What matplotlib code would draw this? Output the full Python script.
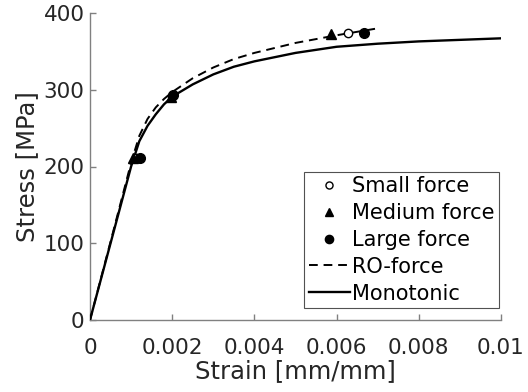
import matplotlib
matplotlib.use("Agg")
import matplotlib.pyplot as plt

# Monotonic stress-strain curve
mono_strain = [0, 0.0005, 0.0010, 0.0012, 0.0014, 0.0016, 0.0018, 0.0020, 0.0025,
               0.0030, 0.0035, 0.0040, 0.0050, 0.0060, 0.0070, 0.0080, 0.0090, 0.0100]
mono_stress = [0, 100, 200, 233, 253, 268, 281, 291, 307,
               320, 330, 337, 348, 356, 360, 363, 365, 367]

# Ramberg-Osgood fit to force-controlled tests
ro_strain = [0, 0.0005, 0.0010, 0.0012, 0.0014, 0.0016, 0.0018, 0.0020, 0.0025,
             0.0030, 0.0035, 0.0040, 0.0050, 0.0055, 0.0060, 0.0070]
ro_stress = [0, 102, 205, 240, 262, 277, 288, 297, 315,
             329, 340, 348, 361, 366, 371, 380]

# Test points
small_strain = [0.00112, 0.00200, 0.00628]
small_stress = [211, 292, 374]
medium_strain = [0.00105, 0.00198, 0.00586]
medium_stress = [211, 291, 373]
large_strain = [0.00122, 0.00202, 0.00667]
large_stress = [211, 293, 374]

x_ticks = [0, 0.002, 0.004, 0.006, 0.008, 0.01]
x_ticklabels = ["0", "0.002", "0.004", "0.006", "0.008", "0.01"]
y_ticks = [0, 100, 200, 300, 400]

plt.rcParams["font.family"] = ["DejaVu Sans"]

fig = plt.figure(figsize=(5.28, 3.92), dpi=100)
ax = fig.add_axes([90 / 528, 72 / 392, 411 / 528, 307 / 392])

ax.plot(small_strain, small_stress, linestyle="none", marker="o", markersize=6,
        markerfacecolor="white", markeredgecolor="black", markeredgewidth=1.0,
        label="Small force", zorder=4)
ax.plot(medium_strain, medium_stress, linestyle="none", marker="^", markersize=7.5,
        color="black", label="Medium force", zorder=4)
ax.plot(large_strain, large_stress, linestyle="none", marker="o", markersize=7,
        color="black", label="Large force", zorder=4)
ax.plot(ro_strain, ro_stress, color="black", linestyle=(0, (4.5, 3)), linewidth=1.4,
        label="RO-force", zorder=3)
ax.plot(mono_strain, mono_stress, color="black", linewidth=1.7,
        label="Monotonic", zorder=3)

ax.set_xlim(0, 0.01)
ax.set_ylim(0, 400)
ax.set_xticks(x_ticks)
ax.set_xticklabels(x_ticklabels)
ax.set_yticks(y_ticks)

axis_gray = "#808080"
text_gray = "#262626"
for side in ("top", "right"):
    ax.spines[side].set_visible(False)
for side in ("left", "bottom"):
    ax.spines[side].set_color(axis_gray)
    ax.spines[side].set_linewidth(1.0)
ax.tick_params(direction="in", length=4, width=1.0, color=axis_gray,
               labelcolor=text_gray, labelsize=15.5)
ax.tick_params(axis="x", pad=13)
ax.tick_params(axis="y", pad=4)

ax.set_xlabel("Strain [mm/mm]", fontsize=17.5, color=text_gray, labelpad=1)
ax.set_ylabel("Stress [MPa]", fontsize=17.5, color=text_gray, labelpad=3)

leg = ax.legend(loc="lower right", bbox_to_anchor=(0.995, 0.04), fontsize=15,
                frameon=True, fancybox=False, edgecolor=text_gray,
                handlelength=2.0, handletextpad=0.1, borderpad=0.2,
                labelspacing=0.33, borderaxespad=0.0, markerscale=0.85)
leg.get_frame().set_linewidth(0.8)
for t in leg.get_texts():
    t.set_color("black")

fig.savefig("out.png", dpi=100)
